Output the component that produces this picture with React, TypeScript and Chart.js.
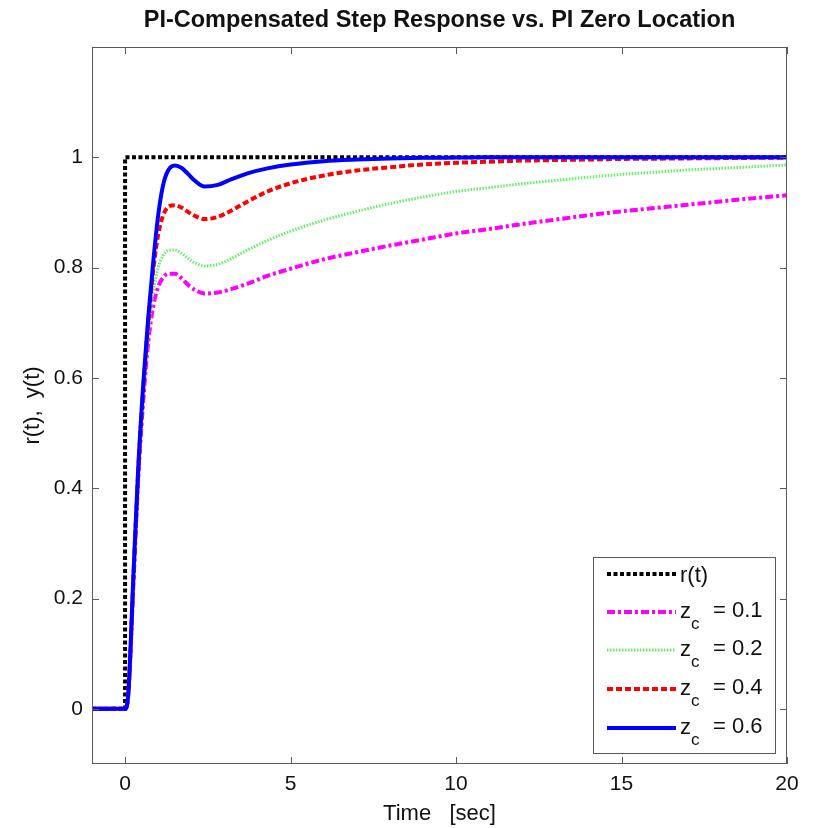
import React, { useEffect, useRef } from 'react';
import { Chart, registerables } from 'chart.js';

Chart.register(...registerables);

const titleText = 'PI-Compensated Step Response vs. PI Zero Location';
const xTitle = 'Time   [sec]';
const yTitle = 'r(t),  y(t)';

const xTicks = [0, 5, 10, 15, 20];
const yTicks = [0, 0.2, 0.4, 0.6, 0.8, 1];

const timeRef = [-1, 0, 0, 20];
const refValues = [0, 0, 1, 1];

const timeResp = [-1, 0, 0.1, 0.25, 0.4, 0.55, 0.7, 0.85, 1.0, 1.15, 1.3, 1.5, 1.7, 1.9, 2.1, 2.4, 2.8, 3.2, 3.7, 4.3,
  5, 6, 7, 8, 9, 10, 11, 12, 13, 14, 15, 16, 17, 18, 19, 20];

const yZc01 = [0, 0, 0.03, 0.225, 0.42, 0.56, 0.665, 0.73, 0.765, 0.782, 0.789, 0.789, 0.781, 0.769, 0.76, 0.753, 0.755, 0.761, 0.771, 0.785,
  0.798, 0.815, 0.828, 0.84, 0.851, 0.862, 0.87, 0.879, 0.887, 0.895, 0.902, 0.908, 0.914, 0.92, 0.926, 0.931];
const yZc02 = [0, 0, 0.03, 0.23, 0.425, 0.57, 0.68, 0.755, 0.8, 0.822, 0.831, 0.832, 0.826, 0.817, 0.809, 0.803, 0.806, 0.816, 0.832, 0.849,
  0.866, 0.886, 0.902, 0.916, 0.928, 0.938, 0.945, 0.952, 0.958, 0.964, 0.969, 0.973, 0.977, 0.98, 0.983, 0.986];
const yZc04 = [0, 0, 0.03, 0.235, 0.435, 0.58, 0.7, 0.795, 0.86, 0.895, 0.91, 0.913, 0.909, 0.901, 0.894, 0.888, 0.892, 0.903, 0.92, 0.938,
  0.953, 0.967, 0.976, 0.982, 0.987, 0.99, 0.992, 0.994, 0.995, 0.996, 0.997, 0.9975, 0.998, 0.9985, 0.999, 0.999];
const yZc06 = [0, 0, 0.03, 0.24, 0.44, 0.59, 0.71, 0.81, 0.895, 0.95, 0.976, 0.985, 0.981, 0.97, 0.958, 0.947, 0.95, 0.96, 0.971, 0.98,
  0.987, 0.993, 0.996, 0.998, 0.999, 0.9995, 1, 1, 1, 1, 1, 1, 1, 1, 1, 1];

const seriesLabels = ['r(t)', '0.1', '0.2', '0.4', '0.6'];

const FONT = '"Liberation Sans", Arial, Helvetica, sans-serif';

const toPts = (xs: number[], ys: number[]) => xs.map((x, i) => ({ x, y: ys[i] }));

const decorPlugin = {
  id: 'decor',
  afterDraw(chart: any) {
    const { ctx, chartArea: a, scales } = chart;
    const xs = scales.x;
    const ys = scales.y;
    ctx.save();
    // frame
    ctx.strokeStyle = '#5a5a5a';
    ctx.lineWidth = 1;
    ctx.setLineDash([]);
    ctx.strokeRect(a.left + 0.5, a.top + 0.5, a.right - a.left - 1, a.bottom - a.top - 1);
    // inward ticks
    const tl = 7;
    ctx.beginPath();
    xTicks.forEach((v) => {
      const p = Math.round(xs.getPixelForValue(v)) + 0.5;
      ctx.moveTo(p, a.bottom);
      ctx.lineTo(p, a.bottom - tl);
      ctx.moveTo(p, a.top);
      ctx.lineTo(p, a.top + tl);
    });
    yTicks.forEach((v) => {
      const p = Math.round(ys.getPixelForValue(v)) + 0.5;
      ctx.moveTo(a.left, p);
      ctx.lineTo(a.left + tl, p);
      ctx.moveTo(a.right, p);
      ctx.lineTo(a.right - tl, p);
    });
    ctx.stroke();

    // title
    const cx = (a.left + a.right) / 2;
    const cy = (a.top + a.bottom) / 2;
    ctx.fillStyle = '#111';
    ctx.textAlign = 'center';
    ctx.textBaseline = 'middle';
    ctx.font = `bold 23.5px ${FONT}`;
    ctx.fillText(titleText, cx, a.top - 26);
    // x title
    ctx.font = `22px ${FONT}`;
    ctx.fillText(xTitle, cx, a.bottom + 50);
    // y title
    ctx.save();
    ctx.translate(33, cy);
    ctx.rotate(-Math.PI / 2);
    ctx.fillText(yTitle, 0, 0);
    ctx.restore();

    // legend
    const bw = 182;
    const bh = 196;
    const bx = a.right - 12 - bw;
    const by = a.bottom - 11 - bh;
    ctx.fillStyle = '#fff';
    ctx.fillRect(bx, by, bw, bh);
    ctx.strokeStyle = '#5a5a5a';
    ctx.lineWidth = 1;
    ctx.strokeRect(bx + 0.5, by + 0.5, bw, bh);
    const rowY = [17, 55, 93, 132, 171];
    const order = [4, 3, 2, 1, 0];
    order.forEach((di, i) => {
      const ds = chart.data.datasets[di];
      const y = by + rowY[i];
      ctx.save();
      ctx.strokeStyle = ds.borderColor;
      ctx.lineWidth = ds.borderWidth;
      ctx.setLineDash(ds.borderDash || []);
      ctx.beginPath();
      ctx.moveTo(bx + 14, y);
      ctx.lineTo(bx + 83, y);
      ctx.stroke();
      ctx.restore();
      ctx.fillStyle = '#111';
      ctx.textAlign = 'left';
      ctx.textBaseline = 'alphabetic';
      const tx = bx + 87;
      if (i === 0) {
        ctx.font = `22px ${FONT}`;
        ctx.fillText(seriesLabels[0], tx, y + 8);
      } else {
        ctx.font = `22px ${FONT}`;
        ctx.fillText('z', tx, y + 6);
        const zw = ctx.measureText('z').width;
        ctx.font = `17px ${FONT}`;
        ctx.fillText('c', tx + zw, y + 17);
        ctx.font = `22px ${FONT}`;
        ctx.fillText('= ' + seriesLabels[i], tx + 33, y + 5);
      }
    });
    ctx.restore();
  },
};

export default function App() {
  const ref = useRef<HTMLCanvasElement>(null);
  useEffect(() => {
    const canvas = ref.current;
    if (!canvas) return;
    const chart = new Chart(canvas, {
      type: 'line',
      data: {
        datasets: [
          {
            label: 'zc = 0.6',
            data: toPts(timeResp, yZc06),
            borderColor: '#0000ff',
            borderWidth: 4,
            borderDash: [],
            cubicInterpolationMode: 'monotone',
            pointRadius: 0,
            fill: false,
            order: 0,
          },
          {
            label: 'zc = 0.4',
            data: toPts(timeResp, yZc04),
            borderColor: '#ff0000',
            borderWidth: 4,
            borderDash: [6, 3],
            cubicInterpolationMode: 'monotone',
            pointRadius: 0,
            fill: false,
            order: 1,
          },
          {
            label: 'zc = 0.2',
            data: toPts(timeResp, yZc02),
            borderColor: '#66ee66',
            borderWidth: 3,
            borderDash: [1.5, 1.5],
            cubicInterpolationMode: 'monotone',
            pointRadius: 0,
            fill: false,
            order: 2,
          },
          {
            label: 'zc = 0.1',
            data: toPts(timeResp, yZc01),
            borderColor: '#ff00ff',
            borderWidth: 4,
            borderDash: [8, 3, 3, 3],
            cubicInterpolationMode: 'monotone',
            pointRadius: 0,
            fill: false,
            order: 3,
          },
          {
            label: 'r(t)',
            data: toPts(timeRef, refValues),
            borderColor: '#000000',
            borderWidth: 4,
            borderDash: [4, 2.5],
            tension: 0,
            pointRadius: 0,
            fill: false,
            order: 4,
          },
        ] as any,
      },
      options: {
        animation: false,
        responsive: false,
        layout: { padding: { top: 47, right: 28, left: 0, bottom: 0 } },
        plugins: {
          legend: { display: false },
          title: { display: false },
          tooltip: { enabled: false },
        },
        scales: {
          x: {
            type: 'linear',
            min: -1,
            max: 20,
            grid: { display: false, drawTicks: false },
            border: { display: false },
            afterBuildTicks: (s: any) => {
              s.ticks = xTicks.map((v) => ({ value: v }));
            },
            afterFit: (s: any) => {
              s.height = 64;
            },
            ticks: {
              padding: 8,
              color: '#111',
              font: { family: FONT, size: 21 },
              maxRotation: 0,
              autoSkip: false,
              callback: (v: any) => String(v),
            },
          },
          y: {
            type: 'linear',
            min: -0.1,
            max: 1.2,
            grid: { display: false, drawTicks: false },
            border: { display: false },
            afterBuildTicks: (s: any) => {
              s.ticks = yTicks.map((v) => ({ value: v }));
            },
            afterFit: (s: any) => {
              s.width = 92;
            },
            ticks: {
              padding: 9,
              color: '#111',
              font: { family: FONT, size: 21 },
              autoSkip: false,
              callback: (v: any) => String(Number(Number(v).toFixed(1))),
            },
          },
        },
      } as any,
      plugins: [decorPlugin],
    });
    return () => chart.destroy();
  }, []);
  return (
    <div style={{ position: 'absolute', left: 0, top: 0, width: 815, height: 828, background: '#fff' }}>
      <canvas ref={ref} width={815} height={828} />
    </div>
  );
}
